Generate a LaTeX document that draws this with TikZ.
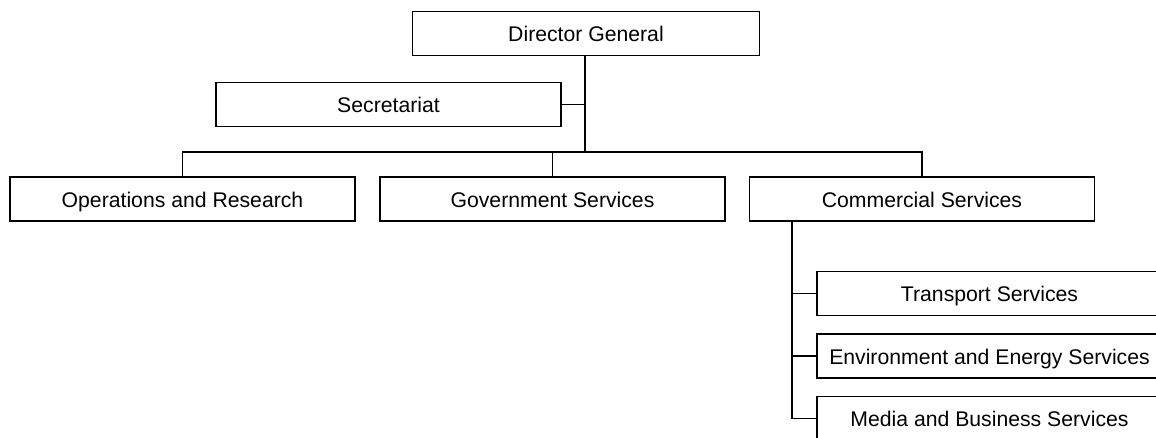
\documentclass[tikz,border=0pt]{standalone}
\usepackage{fontspec}
\setmainfont{Liberation Sans}
\begin{document}
\begin{tikzpicture}[x=1pt,y=-1pt,
  box/.style={draw, line width=1.6pt, minimum width=345pt, minimum height=44pt, inner sep=0pt, text height=19pt, text depth=3pt, font=\fontsize{21.2}{25}\selectfont},
  conn/.style={line width=1.6pt}]
\useasboundingbox (0,0) rectangle (1156,437);
\clip (0,0) rectangle (1156,437);
\node[box, minimum width=347pt] (dg) at (586,33.5) {Director General};
\node[box] (sec) at (388.5,104.5) {Secretariat};
\node[box] (ops) at (182.5,199) {Operations and Research};
\node[box] (gov) at (552.5,199) {Government Services};
\node[box] (comm) at (922,199) {Commercial Services};
\node[box] (trans) at (989.5,293.5) {Transport Services};
\node[box] (env) at (989.5,356) {Environment and Energy Services};
\node[box] (media) at (989.5,418.5) {Media and Business Services};
\coordinate (busy) at (0,152);
\coordinate (trunk) at (585,0);
\coordinate (cx) at (792,0);
\draw[conn] (dg.south -| trunk) -- (trunk |- busy);
\draw[conn] (sec.east) -- (sec.east -| trunk);
\draw[conn] (ops.north) -- (ops.north |- busy) -| (comm.north);
\draw[conn] (gov.north) -- (gov.north |- busy);
\draw[conn] (comm.south -| cx) |- (media.west);
\draw[conn] (trans.west) -- (trans.west -| cx);
\draw[conn] (env.west) -- (env.west -| cx);
\end{tikzpicture}
\end{document}
